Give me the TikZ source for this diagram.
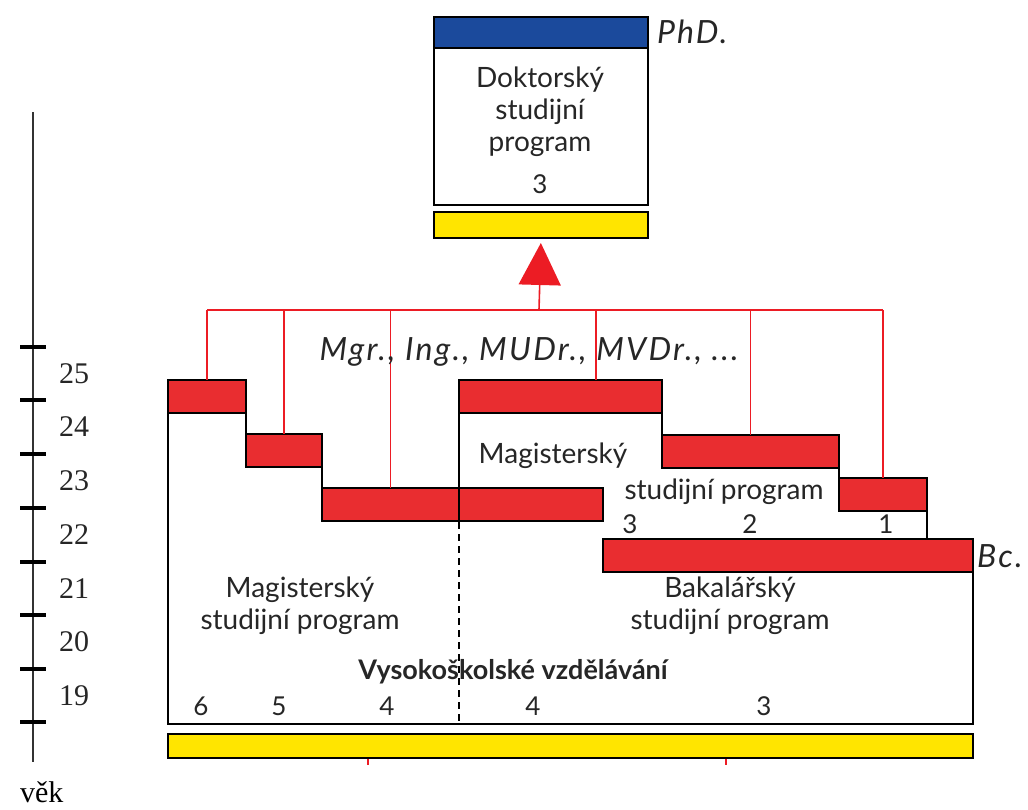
\documentclass[tikz,border=0pt]{standalone}
\usepackage{fontspec}
\setmainfont{Lato}
\newfontfamily\axisfont{Liberation Serif}
\newfontfamily\titfont{Lato}[LetterSpace=7]
\usetikzlibrary{arrows.meta}
\definecolor{barred}{RGB}{233,45,48}
\definecolor{lnred}{RGB}{236,28,36}
\definecolor{phdblue}{RGB}{27,74,156}
\definecolor{baryellow}{RGB}{255,229,0}
\begin{document}
\begin{tikzpicture}[x=1pt,y=-1pt,
    every node/.style={inner sep=0pt,outer sep=0pt},
    bar/.style={draw=black,line width=1.8pt,anchor=north west},
    redbar/.style={bar,fill=barred},
    yelbar/.style={bar,fill=baryellow},
    size/.style 2 args={minimum width=#1,minimum height=#2},
    redline/.style={draw=lnred,line width=1.6pt},
    txt/.style={font=\fontsize{28}{32}\selectfont,text=black!85,align=center},
    num/.style={font=\fontsize{26}{28}\selectfont,text=black!85},
    ital/.style={font=\titfont\fontsize{32}{34}\selectfont\itshape,text=black!85}]
  \useasboundingbox (0,0) rectangle (1028,809);
  % age axis
  \draw[line width=1.4pt,black!80] (33,112) -- (33,762);
  \foreach \y/\a in {347/25,400/24,454/23,508/22,562/21,615/20,669/19}{
    \draw[line width=4pt] (20,\y) -- (46,\y);
    \node[font=\axisfont\fontsize{30}{32}\selectfont,text=black!85] (age\a) at (74,\y+27) {\a};
  }
  \draw[line width=4pt] (20,722) -- (46,722);
  \node[font=\axisfont\fontsize{30}{32}\selectfont,anchor=west] (vek) at (20,792) {věk};
  % outline
  \draw[line width=1.8pt,fill=white] (168,380) -- (246,380) -- (246,434) -- (322,434) -- (322,488)
    -- (459,488) -- (459,380) -- (662,380) -- (662,435) -- (839,435) -- (839,478) -- (927,478)
    -- (927,539) -- (973,539) -- (973,724) -- (168,724) -- cycle;
  \draw[line width=1.2pt,dash pattern=on 7pt off 5pt] (459,522) -- (459,724);
  % red bars
  \node[redbar,size={78}{33}] (m6) at (168,380) {};
  \node[redbar,size={76}{33}] (m5) at (246,434) {};
  \node[redbar,size={137}{33}] (m4) at (322,488) {};
  \node[redbar,size={144}{33}] (b4) at (459,488) {};
  \node[redbar,size={203}{33}] (n3) at (459,380) {};
  \node[redbar,size={177}{33}] (n2) at (662,435) {};
  \node[redbar,size={88}{33}] (n1) at (839,478) {};
  \node[redbar,size={370}{33}] (bc) at (603,539) {};
  \node[yelbar,size={805}{24}] (hs) at (168,734) {};
  % doctoral
  \node[bar,fill=phdblue,size={214}{31}] (phd) at (434,17) {};
  \node[bar,fill=white,size={214}{157}] (dok) at (434,48) {};
  \node[yelbar,size={214}{26}] (dokbar) at (434,212) {};
  \node[txt] (doktxt) at (540,112) {Doktorský\\studijní\\program};
  \node[num] (dokyr) at (540,184) {3};
  \node[ital,anchor=west] (phdlbl) at (657,32) {PhD.};
  % red lines
  \coordinate (bus) at (539,310);
  \draw[redline] (m6.north|-bus) -- (n1.north|-bus);
  \foreach \b in {m6,m5,m4,n2,n1}{
    \draw[redline] (\b.north|-bus) -- (\b.north);
  }
  \draw[redline] (596,0 |- bus) -- (596,0 |- n3.north);
  \draw[redline,-{Triangle[length=42pt,width=42pt]},shorten >=5pt] (bus) -- (dokbar.south);
  \draw[redline,line width=1.2pt] (368,759) -- (368,765);
  \draw[redline,line width=1.2pt] (726,759) -- (726,765);
  % labels
  \node[ital] (tituly) at (529,352) {Mgr., Ing., MUDr., MVDr., ...};
  \node[ital,anchor=west] (bclbl) at (977,556) {Bc.};
  \node[txt] (navmag) at (553,456) {Magisterský};
  \node[txt] (navstud) at (724,492) {studijní program};
  \node[num] (r3) at (630,524) {3};
  \node[num] (r2) at (750,524) {2};
  \node[num] (r1) at (886,524) {1};
  \node[txt] (mag) at (300,606) {Magisterský\\studijní program};
  \node[txt] (bak) at (730,606) {Bakalářský\\studijní program};
  \node[font=\fontsize{27}{30}\selectfont\bfseries,text=black!85] (vs) at (513,672) {Vysokoškolské vzdělávání};
  \foreach \x/\r in {201/6,279/5,387/4,533/4,764/3}{
    \node[num] at (\x,706) {\r};
  }
\end{tikzpicture}
\end{document}
